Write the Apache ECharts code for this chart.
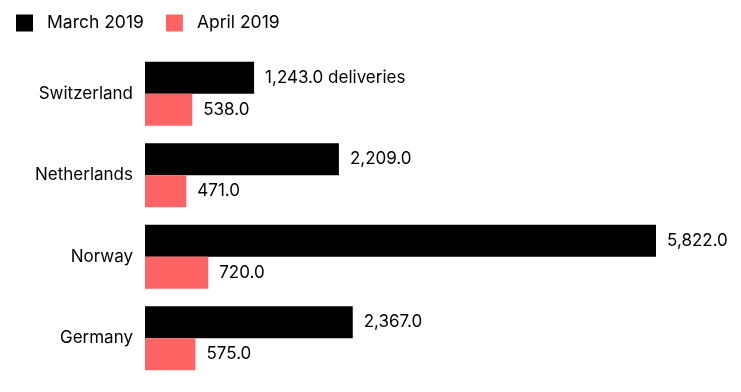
<!DOCTYPE html>
<html><head><meta charset="utf-8">
<script src="https://cdn.jsdelivr.net/npm/echarts@6/dist/echarts.min.js"></script>
<style>html,body{margin:0;padding:0;background:#fff}#c{width:741px;height:392px}</style>
</head><body><div id="c"></div>
<script>
const categories = ['Switzerland', 'Netherlands', 'Norway', 'Germany'];
const march2019 = [1243.0, 2209.0, 5822.0, 2367.0];
const april2019 = [538.0, 471.0, 720.0, 575.0];
const seriesNames = ['March 2019', 'April 2019'];

const FONT = 'Inter, "Liberation Sans", sans-serif';
function fmt(v){ return v.toLocaleString('en-US',{minimumFractionDigits:1,maximumFractionDigits:1}); }

const chart = echarts.init(document.getElementById('c'));
chart.setOption({
  animation: false,
  legend: {
    left: 11, top: 9, itemWidth: 17, itemHeight: 17, itemGap: 22, icon: 'rect',
    textStyle: {fontFamily: FONT, fontSize: 17.5, color: '#000', padding: [0,0,0,9]},
    data: seriesNames
  },
  grid: {left: 145, right: 85, top: 53, bottom: 13, containLabel: false},
  xAxis: {type: 'value', min: 0, max: 5822, show: false},
  yAxis: {
    type: 'category', data: categories, inverse: true,
    axisLine: {show: false}, axisTick: {show: false},
    axisLabel: {fontFamily: FONT, fontSize: 17, color: '#000', margin: 12}
  },
  series: [
    {name: seriesNames[0], type: 'bar', data: march2019, barWidth: 32, barGap: '0%', barCategoryGap: '21%',
     itemStyle: {color: '#000'},
     label: {show: true, position: 'right', distance: 11, fontFamily: FONT, fontSize: 17, color: '#000',
       formatter: p => fmt(p.value) + (p.dataIndex === 0 ? ' deliveries' : '')}},
    {name: seriesNames[1], type: 'bar', data: april2019, barWidth: 32,
     itemStyle: {color: '#ff6464'},
     label: {show: true, position: 'right', distance: 11, fontFamily: FONT, fontSize: 17, color: '#000',
       formatter: p => fmt(p.value)}}
  ]
});
</script></body></html>
